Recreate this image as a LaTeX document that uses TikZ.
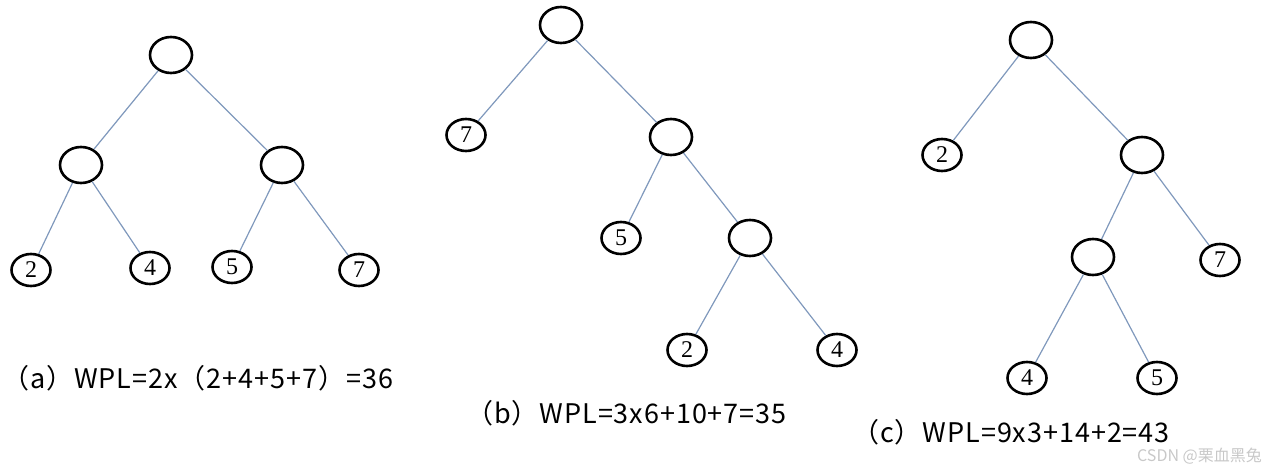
\documentclass[tikz,border=0pt]{standalone}
\usepackage{fontspec}
\setmainfont{Liberation Serif}
\newfontfamily\labelfont{Noto Sans CJK SC}
\usetikzlibrary{shapes.geometric}
\definecolor{edgeblue}{HTML}{7F98BC}
\definecolor{markgray}{HTML}{C8C8C8}

\begin{document}
\begin{tikzpicture}[
  x=1pt,y=-1pt,
  inner/.style={draw,ellipse,line width=2.6pt,minimum width=42pt,minimum height=36pt,inner sep=0pt},
  leaf/.style={draw,ellipse,line width=2.6pt,minimum width=39pt,minimum height=32pt,inner sep=0pt,font=\fontsize{24}{24}\selectfont},
  edge/.style={edgeblue,line width=1.2pt},
  caption/.style={anchor=west,inner sep=0pt,font=\labelfont\fontsize{27}{27}\selectfont\addfontfeature{LetterSpace=3.5}}
]
\useasboundingbox (0,0) rectangle (1266,465);

% tree (a)
\node[inner] (aroot) at (171,55) {};
\node[inner] (al) at (81,165) {};
\node[inner] (ar) at (282,165) {};
\node[leaf] (a2) at (31,270) {2};
\node[leaf] (a4) at (150,268) {4};
\node[leaf] (a5) at (232,267) {5};
\node[leaf] (a7) at (359,270) {7};
\draw[edge] (aroot) -- (al);
\draw[edge] (aroot) -- (ar);
\draw[edge] (al) -- (a2);
\draw[edge] (al) -- (a4);
\draw[edge] (ar) -- (a5);
\draw[edge] (ar) -- (a7);
\node[caption] (capa) at (2,378) {（a）WPL=2x（2+4+5+7）=36};

% tree (b)
\node[inner] (broot) at (561,25) {};
\node[leaf] (b7) at (466,135) {7};
\node[inner] (bm) at (671,137) {};
\node[leaf] (b5) at (621,238) {5};
\node[inner] (bn) at (750,238) {};
\node[leaf] (b2) at (687,350) {2};
\node[leaf] (b4) at (837,350) {4};
\draw[edge] (broot) -- (b7);
\draw[edge] (broot) -- (bm);
\draw[edge] (bm) -- (b5);
\draw[edge] (bm) -- (bn);
\draw[edge] (bn) -- (b2);
\draw[edge] (bn) -- (b4);
\node[caption] (capb) at (466,413) {（b）WPL=3x6+10+7=35};

% tree (c)
\node[inner] (croot) at (1031,40) {};
\node[leaf] (c2) at (942,155) {2};
\node[inner] (cm) at (1142,155) {};
\node[inner] (cn) at (1093,257) {};
\node[leaf] (c7) at (1220,260) {7};
\node[leaf] (c4) at (1027,378) {4};
\node[leaf] (c5) at (1157,378) {5};
\draw[edge] (croot) -- (c2);
\draw[edge] (croot) -- (cm);
\draw[edge] (cm) -- (cn);
\draw[edge] (cm) -- (c7);
\draw[edge] (cn) -- (c4);
\draw[edge] (cn) -- (c5);
\node[caption] (capc) at (852,432) {（c）WPL=9x3+14+2=43};
\node[anchor=east,inner sep=0pt,markgray,font=\labelfont\fontsize{16}{16}\selectfont] (mark) at (1262,456) {CSDN @栗血黑兔};
\end{tikzpicture}
\end{document}
